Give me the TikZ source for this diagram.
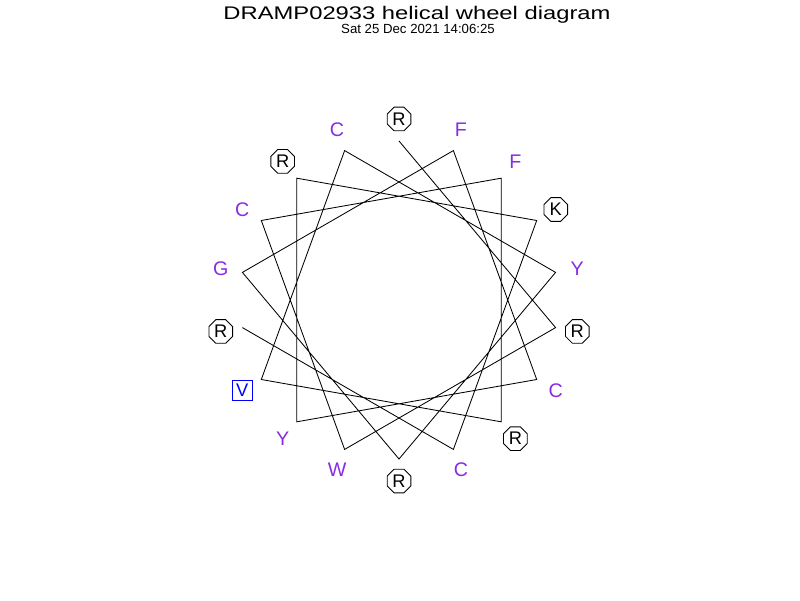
\documentclass[tikz,border=0pt]{standalone}
\usepackage{fontspec}
\setmainfont{Liberation Sans}
\usetikzlibrary{shapes.geometric}
\definecolor{hydro}{RGB}{138,43,226}
\tikzset{
  charged/.style={regular polygon,regular polygon sides=8,draw,inner sep=0pt,minimum size=0.64cm,font=\fontsize{13}{13}\selectfont},
  apolar/.style={text=hydro,font=\fontsize{14}{14}\selectfont},
  boxed/.style={draw=blue,text=blue,rectangle,inner sep=0pt,minimum size=0.5cm,font=\fontsize{13}{13}\selectfont}
}
\begin{document}
\begin{tikzpicture}[x=0.025cm,y=0.025cm,line width=0.6pt]
  \useasboundingbox (0,0) rectangle (800,600);
  \node (title) at (417,585) {\scalebox{1.3}[1]{\fontsize{13}{13}\selectfont DRAMP02933 helical wheel diagram}};
  \node (date) at (418,571) {\fontsize{9.4}{9.4}\selectfont Sat 25 Dec 2021 14:06:25};
  \begin{scope}[shift={(399,300)}]
    % residues, 100 degrees apart
    \foreach \res/\kind [count=\i from 0] in
      {R/charged,R/charged,W/apolar,C/apolar,F/apolar,R/charged,V/boxed,C/apolar,Y/apolar,
       R/charged,G/apolar,F/apolar,C/apolar,Y/apolar,R/charged,K/charged,C/apolar,R/charged}
    {
      \node[\kind] (r\i) at ({90-100*\i}:181) {\res};
      \coordinate (v\i) at ({90-100*\i}:159);
    }
    \draw (v0) \foreach \i in {1,...,17} {-- (v\i)};
  \end{scope}
\end{tikzpicture}
\end{document}
